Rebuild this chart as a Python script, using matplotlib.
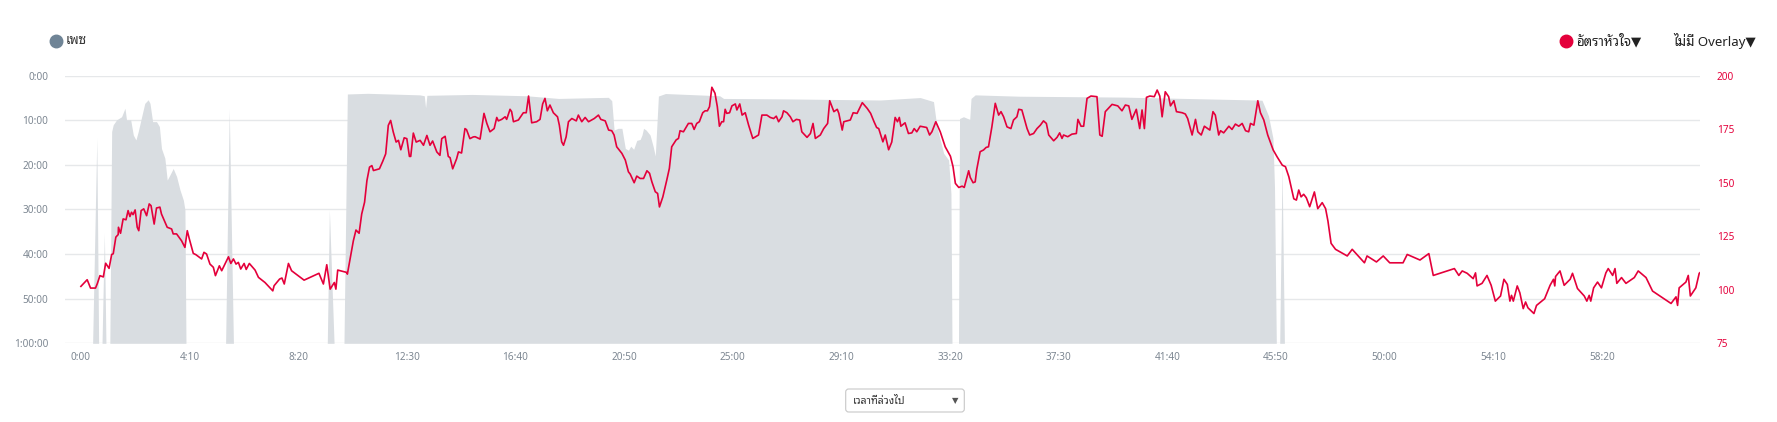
import matplotlib
matplotlib.use("Agg")
import matplotlib.pyplot as plt
import matplotlib.font_manager as fm
from matplotlib.ft2font import FT2Font
from matplotlib.lines import Line2D
from matplotlib.patches import FancyBboxPatch
from matplotlib.ticker import FixedLocator, FuncFormatter

# ---------------- data ----------------
# heart rate (bpm) over elapsed time (minutes)
hr_time = [0.0, 0.24, 0.37, 0.56, 0.63, 0.73, 0.86, 0.95, 1.08, 1.18, 1.24, 1.34, 1.43, 1.44, 1.52,
           1.62, 1.73, 1.81, 1.88, 1.94, 2.0, 2.08, 2.16, 2.22, 2.31, 2.41, 2.52, 2.62, 2.69, 2.81,
           2.9, 3.03, 3.09, 3.31, 3.48, 3.54, 3.67, 3.86, 3.99, 4.08, 4.16, 4.31, 4.41, 4.63, 4.72,
           4.82, 4.95, 5.08, 5.16, 5.31, 5.4, 5.66, 5.75, 5.85, 5.95, 6.04, 6.13, 6.26, 6.34, 6.46,
           6.68, 6.81, 7.06, 7.36, 7.41, 7.62, 7.71, 7.8, 7.96, 8.08, 8.56, 9.13, 9.3, 9.43, 9.56,
           9.72, 9.78, 9.85, 10.2, 10.22, 10.45, 10.55, 10.67, 10.77, 10.88, 10.97, 11.07, 11.16, 11.22, 11.45,
           11.58, 11.69, 11.79, 11.88, 11.98, 12.09, 12.18, 12.27, 12.4, 12.5, 12.6, 12.65, 12.75, 12.86, 13.01,
           13.14, 13.27, 13.39, 13.49, 13.65, 13.77, 13.84, 13.97, 14.09, 14.16, 14.26, 14.41, 14.48, 14.6, 14.73,
           14.79, 14.92, 15.05, 15.12, 15.31, 15.46, 15.57, 15.69, 15.85, 15.95, 16.01, 16.14, 16.27, 16.33, 16.46,
           16.52, 16.59, 16.78, 16.97, 17.08, 17.17, 17.29, 17.48, 17.61, 17.71, 17.8, 17.89, 17.99, 18.12, 18.28,
           18.35, 18.44, 18.51, 18.61, 18.7, 18.83, 19.0, 19.08, 19.21, 19.34, 19.47, 19.69, 19.85, 19.94, 20.11,
           20.24, 20.36, 20.45, 20.55, 20.75, 20.88, 21.0, 21.07, 21.22, 21.32, 21.45, 21.58, 21.71, 21.81, 21.9,
           22.03, 22.12, 22.19, 22.32, 22.47, 22.57, 22.66, 22.83, 22.92, 22.98, 23.11, 23.3, 23.43, 23.52, 23.62,
           23.72, 23.85, 23.94, 24.03, 24.11, 24.2, 24.32, 24.41, 24.49, 24.58, 24.65, 24.71, 24.77, 24.88, 24.97,
           25.1, 25.16, 25.27, 25.36, 25.48, 25.61, 25.77, 25.99, 26.12, 26.31, 26.44, 26.57, 26.67, 26.76, 26.89,
           26.95, 27.08, 27.21, 27.31, 27.44, 27.57, 27.65, 27.85, 27.98, 28.08, 28.17, 28.36, 28.49, 28.64, 28.72,
           28.88, 29.01, 29.07, 29.2, 29.26, 29.51, 29.62, 29.77, 29.97, 30.16, 30.29, 30.42, 30.52, 30.6, 30.76,
           30.85, 30.98, 31.1, 31.23, 31.32, 31.39, 31.45, 31.61, 31.74, 31.87, 31.96, 32.06, 32.19, 32.44, 32.55,
           32.64, 32.79, 32.96, 33.15, 33.35, 33.45, 33.54, 33.67, 33.8, 33.88, 33.96, 34.05, 34.11, 34.22, 34.3,
           34.36, 34.49, 34.62, 34.72, 34.81, 34.94, 35.07, 35.2, 35.29, 35.39, 35.52, 35.67, 35.77, 35.9, 35.97,
           36.09, 36.18, 36.29, 36.39, 36.54, 36.67, 36.8, 36.92, 37.03, 37.12, 37.31, 37.44, 37.54, 37.63, 37.69,
           37.85, 38.01, 38.18, 38.24, 38.36, 38.46, 38.59, 38.74, 38.97, 39.08, 39.17, 39.29, 39.55, 39.77, 39.93,
           40.06, 40.19, 40.31, 40.48, 40.61, 40.7, 40.79, 40.87, 41.0, 41.17, 41.28, 41.38, 41.47, 41.59, 41.72,
           41.79, 41.92, 42.02, 42.24, 42.36, 42.45, 42.62, 42.75, 42.84, 42.97, 43.09, 43.3, 43.42, 43.51, 43.64,
           43.71, 43.83, 44.03, 44.15, 44.28, 44.41, 44.54, 44.67, 44.79, 44.86, 44.99, 45.14, 45.24, 45.37, 45.52,
           45.73, 45.88, 46.08, 46.2, 46.33, 46.52, 46.62, 46.71, 46.8, 46.9, 47.0, 47.13, 47.31, 47.44, 47.61,
           47.74, 47.83, 47.95, 48.12, 48.57, 48.76, 49.23, 49.33, 49.69, 49.95, 50.2, 50.71, 50.87, 51.36, 51.7,
           51.87, 52.68, 52.85, 52.98, 53.17, 53.4, 53.49, 53.55, 53.74, 53.93, 54.09, 54.25, 54.45, 54.58, 54.71,
           54.81, 54.87, 54.94, 55.09, 55.19, 55.32, 55.41, 55.5, 55.73, 55.83, 56.14, 56.35, 56.48, 56.53, 56.56,
           56.73, 56.89, 57.12, 57.21, 57.4, 57.66, 57.76, 57.85, 57.91, 58.02, 58.17, 58.32, 58.49, 58.58, 58.75,
           58.84, 58.91, 59.09, 59.26, 59.58, 59.73, 60.03, 60.28, 60.99, 61.18, 61.24, 61.3, 61.56, 61.65, 61.73,
           61.94, 62.07, 62.1]
hr_bpm = [101.6, 104.7, 100.8, 100.8, 102.9, 106.6, 106.0, 112.4, 110.0, 116.5, 116.8, 124.6, 125.8, 129.2, 126.4,
          133.1, 132.7, 137.0, 134.2, 136.2, 135.1, 137.3, 129.2, 127.6, 137.0, 137.8, 134.6, 140.1, 139.3, 130.7,
          138.2, 138.6, 135.4, 129.2, 128.4, 126.1, 126.1, 122.9, 119.8, 127.6, 123.7, 117.0, 116.4, 114.4, 117.5,
          116.7, 112.0, 110.5, 106.6, 111.2, 108.9, 115.4, 112.3, 114.4, 112.0, 112.8, 109.7, 112.3, 109.5, 112.3,
          109.2, 105.8, 103.4, 99.5, 101.9, 105.0, 105.5, 102.7, 112.3, 108.9, 104.5, 107.7, 102.7, 111.7, 100.3,
          103.4, 100.3, 109.2, 108.1, 107.3, 122.9, 127.9, 126.4, 135.4, 140.9, 151.0, 157.3, 158.0, 155.7, 156.5,
          160.1, 163.5, 176.8, 179.1, 173.7, 169.0, 169.8, 165.4, 171.0, 170.6, 162.3, 162.3, 173.2, 169.0, 169.8,
          167.5, 172.1, 167.5, 169.5, 164.4, 162.8, 170.6, 171.7, 162.3, 161.7, 156.5, 161.2, 164.4, 163.9, 175.3,
          174.8, 170.6, 171.4, 171.5, 170.4, 182.4, 177.7, 173.8, 175.3, 180.5, 178.9, 179.6, 180.8, 179.6, 184.3,
          183.2, 178.5, 179.3, 182.7, 182.7, 190.5, 178.0, 178.5, 179.6, 186.8, 189.4, 183.6, 186.3, 182.7, 180.8,
          176.9, 169.1, 167.5, 171.4, 178.5, 180.0, 178.9, 181.6, 178.5, 180.5, 178.5, 180.0, 181.6, 179.6, 178.9,
          174.6, 174.3, 172.3, 166.8, 163.7, 160.6, 155.1, 154.0, 150.0, 153.1, 152.0, 152.0, 155.6, 154.4, 150.4,
          145.8, 145.0, 138.7, 143.4, 151.2, 156.7, 166.8, 170.0, 170.7, 174.3, 173.8, 177.7, 177.7, 174.9, 177.7,
          178.5, 182.7, 183.6, 183.6, 185.5, 194.6, 191.8, 185.5, 176.4, 178.5, 178.5, 184.3, 182.4, 182.7, 185.9,
          186.8, 184.0, 186.8, 181.6, 182.7, 176.9, 170.7, 172.3, 181.6, 181.6, 180.5, 180.0, 181.1, 178.5, 180.8,
          183.6, 182.7, 180.8, 178.5, 179.6, 179.3, 173.8, 171.2, 173.0, 177.7, 170.7, 172.3, 175.3, 177.7, 188.3,
          183.2, 184.3, 182.4, 174.6, 178.5, 179.3, 182.7, 182.4, 187.4, 184.7, 182.4, 178.5, 175.8, 175.3, 169.1,
          172.3, 165.4, 169.0, 180.5, 178.5, 180.5, 176.4, 178.0, 173.0, 173.3, 175.3, 173.8, 176.4, 175.8, 172.3,
          173.8, 178.5, 173.8, 166.8, 162.4, 157.5, 149.7, 147.8, 148.4, 147.8, 151.5, 155.6, 152.5, 150.0, 150.4,
          156.2, 164.5, 165.3, 166.5, 166.8, 176.1, 187.1, 181.6, 183.2, 180.8, 176.1, 175.3, 179.3, 180.8, 184.3,
          184.0, 180.0, 175.3, 172.3, 173.0, 175.3, 176.9, 178.9, 177.7, 172.3, 169.6, 171.2, 173.3, 170.7, 172.3,
          171.5, 172.7, 173.0, 179.6, 176.4, 176.4, 189.4, 190.5, 190.2, 172.3, 171.7, 183.2, 186.6, 185.9, 183.6,
          186.3, 185.9, 179.6, 184.3, 175.3, 184.0, 175.3, 189.9, 190.5, 190.2, 193.3, 190.5, 180.8, 192.5, 190.2,
          185.9, 188.3, 183.2, 182.7, 182.1, 180.0, 172.3, 179.6, 173.8, 172.3, 176.4, 174.6, 183.2, 181.6, 172.3,
          174.3, 173.3, 176.4, 174.9, 177.4, 176.4, 177.7, 174.3, 173.8, 177.7, 176.9, 188.3, 182.7, 179.3, 172.3,
          165.3, 162.1, 158.2, 157.5, 152.8, 142.5, 141.9, 146.6, 143.4, 144.6, 143.0, 138.8, 145.7, 137.9, 140.7,
          137.9, 132.1, 121.7, 118.9, 115.8, 118.9, 112.6, 115.8, 113.0, 115.8, 112.6, 112.6, 116.5, 113.9, 116.9,
          106.7, 109.9, 106.7, 108.8, 107.7, 105.2, 107.9, 101.8, 103.0, 106.7, 102.1, 94.7, 97.1, 104.9, 102.5,
          94.7, 97.4, 94.7, 101.8, 98.6, 91.2, 94.3, 91.6, 88.9, 92.7, 95.8, 102.1, 104.9, 101.8, 106.2,
          108.8, 102.1, 104.9, 107.7, 100.6, 97.1, 94.7, 97.4, 94.7, 100.9, 103.6, 100.9, 107.9, 109.9, 106.7,
          109.9, 103.0, 105.7, 103.0, 105.7, 108.8, 105.7, 99.4, 93.6, 96.7, 92.7, 100.9, 103.6, 106.7, 97.1,
          100.9, 107.7, 108.0]

# pace (minutes per km) over elapsed time (minutes); 60 = no movement (bottom of axis)
pace_time = [0.0, 0.45, 0.61, 0.68, 0.81, 0.90, 0.96, 1.11, 1.18, 1.24, 1.37, 1.56, 1.69, 1.75, 1.91,
             2.01, 2.11, 2.20, 2.33, 2.45, 2.58, 2.65, 2.75, 2.90, 3.01, 3.09, 3.22, 3.31, 3.41, 3.54,
             3.67, 3.80, 3.93, 3.99, 4.03, 5.55, 5.69, 5.85, 9.45, 9.53, 9.71, 10.09, 10.22, 11.0, 13.0,
             13.17, 13.22, 13.27, 15.0, 17.1, 18.32, 20.23, 20.36, 20.45, 20.6, 20.75, 20.88, 21.0, 21.09, 21.2,
             21.32, 21.45, 21.52, 21.58, 21.68, 21.83, 21.95, 22.03, 22.15, 22.42, 24.5, 24.65, 27.0, 30.66, 32.19,
             32.70, 32.83, 33.09, 33.28, 33.37, 33.41, 33.66, 33.70, 33.85, 34.09, 34.14, 34.30, 36.0, 40.0, 45.11,
             45.30, 45.55, 45.72, 45.78, 45.85, 45.98, 46.07, 46.16, 62.1]
pace_min = [60, 60, 14.0, 60, 60, 35.3, 60, 60, 12.5, 11.0, 9.9, 9.2, 7.3, 9.9, 9.9,
            13.3, 14.4, 12.5, 9.2, 6.2, 5.4, 6.2, 10.3, 10.3, 11.4, 16.3, 18.5, 23.4, 22.3, 20.8,
            22.6, 25.6, 27.9, 30.1, 60, 60, 7.5, 60, 60, 30.1, 60, 60, 4.1, 3.95, 4.3,
            4.5, 7.2, 4.4, 4.2, 4.5, 5.1, 4.85, 5.6, 12.2, 11.8, 11.8, 16.3, 16.7, 15.8, 16.5,
            14.5, 14.3, 13.3, 11.8, 12.2, 13.3, 15.9, 18.0, 4.56, 4.0, 4.5, 5.1, 5.2, 5.45, 4.9,
            5.8, 11.4, 17.4, 18.9, 26.4, 60, 60, 9.6, 9.2, 9.8, 5.1, 4.3, 4.6, 4.8, 5.45,
            5.5, 9.0, 14.0, 25.0, 60, 60, 20.4, 60, 60]

x_ticks_sec = [0, 250, 500, 750, 1000, 1250, 1500, 1750, 2000, 2250, 2500, 2750, 3000, 3250, 3500]
pace_ticks_min = [0, 10, 20, 30, 40, 50, 60]
hr_ticks = [75, 100, 125, 150, 175, 200]

legend_left = "เพซ"
legend_hr = "อัตราหัวใจ▼"
legend_overlay = "ไม่มี Overlay▼"
dropdown_label = "เวลาที่ล่วงไป"

# ---------------- fonts ----------------
def find_thai_font():
    names = []
    for f in fm.fontManager.ttflist:
        try:
            cmap = FT2Font(f.fname).get_charmap()
        except Exception:
            continue
        if 0x0E40 in cmap and 0x0E2B in cmap and 0x0E08 in cmap:
            names.append(f.name)
    if not names:
        return None
    for pref in ("Noto Sans Thai", "Sarabun", "Loma", "Garuda", "Tlwg"):
        for n in names:
            if n.startswith(pref):
                return n
    return names[0]

thai = find_thai_font()
fam = ([thai] if thai else []) + ["DejaVu Sans"]
plt.rcParams["font.family"] = fam

RED = "#e4003b"
GREY_FILL = "#d9dde1"
GRID = "#e6e8ea"
TICK = "#7d8792"

def fmt_clock(total_sec):
    s = int(round(total_sec))
    h, rem = divmod(s, 3600)
    m, sec = divmod(rem, 60)
    if h:
        return f"{h}:{m:02d}:{sec:02d}"
    return f"{m}:{sec:02d}"

W, H = 1777, 422
fig = plt.figure(figsize=(W / 100, H / 100), dpi=100)
ax = fig.add_axes([65 / W, 1 - 343.3 / H, (1700 - 65) / W, (343.3 - 75.7) / H])

ax.fill_between(pace_time, pace_min, 60, color=GREY_FILL, linewidth=0, zorder=1)
ax.set_ylim(60, 0)
ax.set_xlim(-0.61, 62.1)
ax.yaxis.set_major_locator(FixedLocator(pace_ticks_min))
ax.yaxis.set_major_formatter(FuncFormatter(lambda v, p: fmt_clock(v * 60)))
ax.xaxis.set_major_locator(FixedLocator([s / 60 for s in x_ticks_sec]))
ax.xaxis.set_major_formatter(FuncFormatter(lambda v, p: fmt_clock(v * 60)))
ax.grid(axis="y", color=GRID, linewidth=1.0, zorder=0)
ax.set_axisbelow(True)
for sp in ax.spines.values():
    sp.set_visible(False)
ax.tick_params(axis="both", length=0, labelsize=7.2, colors=TICK)
ax.tick_params(axis="y", pad=12)
ax.tick_params(axis="x", pad=6)

ax2 = ax.twinx()
ax2.plot(hr_time, hr_bpm, color=RED, linewidth=1.2, zorder=3)
ax2.set_ylim(75, 200)
ax2.yaxis.set_major_locator(FixedLocator(hr_ticks))
for sp in ax2.spines.values():
    sp.set_visible(False)
ax2.tick_params(axis="y", length=0, labelsize=7.2, colors=RED, pad=12)

# legend-like header
def px(x, y):
    return x / W, 1 - y / H

fig.add_artist(Line2D([px(55.5, 41)[0]], [px(55.5, 41)[1]], marker="o", markersize=9,
                      color="#6f8496", transform=fig.transFigure, linestyle="none"))
fig.text(*px(66, 41), legend_left, fontsize=9.5, color="#333333", va="center", ha="left",
         fontweight="bold")
fig.add_artist(Line2D([px(1565.5, 41)[0]], [px(1565.5, 41)[1]], marker="o", markersize=9,
                      color=RED, transform=fig.transFigure, linestyle="none"))
fig.text(*px(1576, 41), legend_hr, fontsize=9.5, color="#222222", va="center", ha="left")
fig.text(*px(1673, 41), legend_overlay, fontsize=9.5, color="#222222", va="center", ha="left")

# dropdown box
box = FancyBboxPatch((845.7 / 100, (H - 412) / 100), (964.3 - 845.7) / 100, 0.23,
                     boxstyle="round,pad=0,rounding_size=0.03", transform=fig.dpi_scale_trans,
                     facecolor="white", edgecolor="#c8c8c8", linewidth=0.8)
fig.add_artist(box)
fig.text(*px(853, 401), dropdown_label, fontsize=7.5, color="#333333", va="center", ha="left")
fig.text(*px(955, 401), "▼", fontsize=6, color="#555555", va="center", ha="center",
         family="DejaVu Sans")

fig.savefig("out.png", dpi=100, facecolor="white")
